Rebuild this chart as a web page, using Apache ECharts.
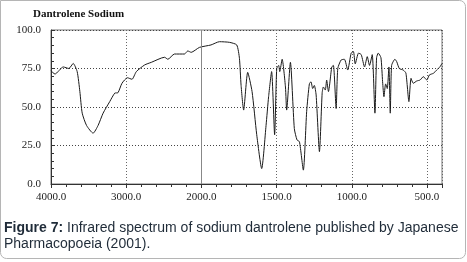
<!DOCTYPE html>
<html>
<head>
<meta charset="utf-8">
<script src="https://cdn.jsdelivr.net/npm/echarts@6/dist/echarts.min.js"></script>
<style>
  html, body { margin: 0; padding: 0; background: #fff; }
  #chart { width: 467px; height: 262px; }
</style>
</head>
<body>
<div id="chart"></div>
<script>
// IR spectrum (wavenumber cm-1, transmittance %)
const wavenumbers = [
  4000, 3947, 3837, 3762, 3705, 3652, 3616, 3585, 3527, 3440, 3374, 3307, 3219, 3152, 3109,
  3056, 2984, 2923, 2865, 2755, 2666, 2490, 2446, 2358, 2225, 2181, 2136, 2026,
  1936, 1880, 1814, 1765, 1747, 1736, 1719, 1692, 1663, 1632, 1599, 1570, 1553, 1533, 1513,
  1499, 1486, 1479, 1463, 1441, 1433, 1408, 1382, 1364, 1348, 1322, 1300, 1282, 1271, 1260,
  1249, 1237, 1215, 1197, 1189, 1176, 1167, 1155, 1133, 1122, 1104, 1093, 1071, 1049, 1027,
  1004, 989, 977, 955, 937, 915, 897, 882, 864, 846, 835, 824, 806, 795, 786, 775, 764, 753,
  744, 735, 713, 701, 684, 658, 640, 620, 606, 591, 568, 546, 524, 501, 484, 457, 435, 413, 400
];
const transmittance = [
  73.5, 71.4, 76, 75, 78.3, 73, 60, 46, 38, 33, 38, 46, 53.5, 59, 59.3,
  65.4, 69, 68, 73, 77.3, 79, 82.3, 81, 84.4, 84.4, 86.4, 85.5, 88.7,
  90.3, 92.4, 92, 90.3, 81.6, 64, 48, 72.5, 60, 32, 10, 38, 56.7, 73, 32,
  75, 77, 73, 81, 63, 48, 79, 36, 28.6, 27.5, 9, 47, 65, 66.4, 62,
  64, 57.8, 21, 59, 63, 61, 67.5, 60, 76, 77, 49, 75, 80.5, 81, 74,
  85, 86, 78, 85, 84, 76, 82.7, 77, 84, 46, 82, 85, 82, 66.4, 56.7, 65, 62, 76,
  46, 77, 81, 79.4, 75, 74, 72, 53.5, 68.6, 65.4, 66.9, 67.5, 69.7, 67.5, 70.8, 71.9, 74, 76.2, 78.3
];
const xTicks = [4000, 3000, 2000, 1500, 1000, 500];
const yTicks = [0, 25, 50, 75, 100];

// the chart's scale halves at 2000 cm-1
function toPos(wn) {
  return wn >= 2000 ? (4000 - wn) / 1000 : 2 + (2000 - wn) / 500;
}
function toWn(p) {
  return p <= 2 ? 4000 - 1000 * p : 2000 - 500 * (p - 2);
}

const serif = '"Liberation Serif", "DejaVu Serif", serif';
const sans = '"Liberation Sans", Arial, sans-serif';
const points = wavenumbers.map((w, i) => [toPos(w), transmittance[i]]);

const chart = echarts.init(document.getElementById('chart'));
chart.setOption({
  animation: false,
  grid: { left: 51, right: 25, top: 30, bottom: 78, show: true, borderColor: '#777', borderWidth: 1 },
  xAxis: {
    type: 'value', min: 0, max: toPos(400), interval: 1,
    axisLine: { lineStyle: { color: '#333' } },
    axisTick: { show: true, inside: false, length: 4, lineStyle: { color: '#333' } },
    minorTick: { show: true, splitNumber: 5, length: 3, lineStyle: { color: '#333' } },
    axisLabel: {
      showMaxLabel: false, showMinLabel: true, margin: 8,
      fontFamily: serif, fontSize: 11, color: '#222',
      formatter: v => xTicks.includes(Math.round(toWn(v))) ? toWn(v).toFixed(1) : ''
    },
    splitLine: { show: true, lineStyle: { color: '#666', type: [1, 2], width: 1 } }
  },
  yAxis: {
    type: 'value', min: 0, max: 100, interval: 25,
    axisLine: { show: true, lineStyle: { color: '#333' } },
    axisTick: { show: true, inside: true, length: 4, lineStyle: { color: '#333' } },
    minorTick: { show: true, splitNumber: 5, length: 3, lineStyle: { color: '#333' } },
    axisLabel: {
      margin: 10, fontFamily: serif, fontSize: 11, color: '#222',
      formatter: v => yTicks.includes(v) ? v.toFixed(1) : ''
    },
    splitLine: { show: true, lineStyle: { color: '#444', type: [1, 2], width: 1 } }
  },
  series: [{
    type: 'line',
    data: points,
    showSymbol: false,
    smooth: 0.2,
    lineStyle: { color: '#1a1a1a', width: 1 },
    markLine: {
      silent: true, symbol: 'none', label: { show: false },
      lineStyle: { color: '#888', type: 'solid', width: 1 },
      data: [{ xAxis: toPos(2000) }]
    }
  }],
  graphic: [
    {
      type: 'rect', silent: true,
      shape: { x: 0.5, y: 0.5, width: 465, height: 258, r: [0, 6, 6, 6] },
      style: { fill: 'none', stroke: '#b5b5b5', lineWidth: 1 }
    },
    {
      type: 'text', left: 33, top: 9,
      style: { text: 'Dantrolene Sodium', font: 'bold 11px ' + serif, fill: '#111' }
    },
    {
      type: 'text', left: 4, top: 220,
      style: {
        text: '{b|Figure 7:} Infrared spectrum of sodium dantrolene published by Japanese\nPharmacopoeia (2001).',
        font: '14px ' + sans,
        fill: '#1f2b38', lineHeight: 16,
        rich: {
          b: { font: 'bold 14px ' + sans, fill: '#1f2b38', lineHeight: 16 }
        }
      }
    }
  ]
});
</script>
</body>
</html>
